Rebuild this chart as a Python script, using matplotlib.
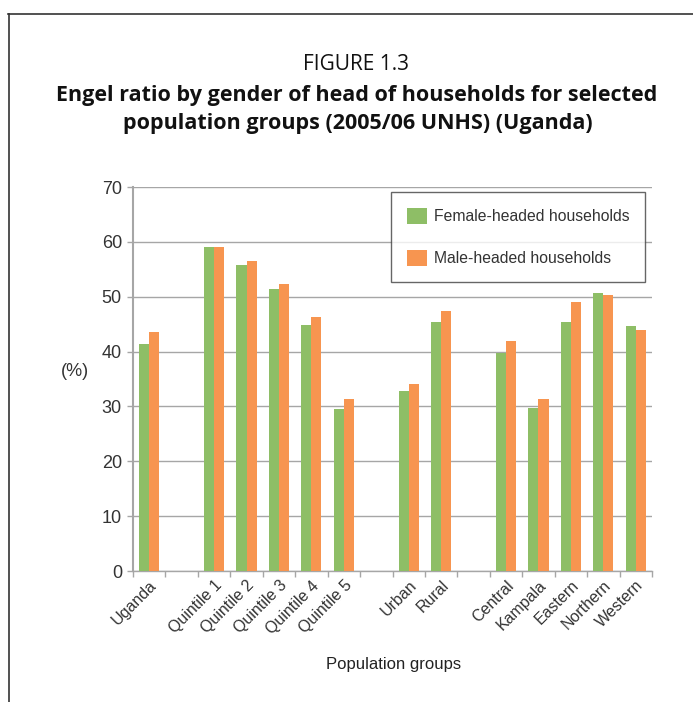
import matplotlib
matplotlib.use("Agg")
import matplotlib.pyplot as plt
from matplotlib import font_manager
from matplotlib.lines import Line2D
import numpy as np

categories = ["Uganda", "", "Quintile 1", "Quintile 2", "Quintile 3", "Quintile 4",
              "Quintile 5", "", "Urban", "Rural", "", "Central", "Kampala",
              "Eastern", "Northern", "Western"]
female = [41.3, None, 59.1, 55.7, 51.4, 44.9, 29.6, None, 32.8, 45.3, None,
          39.7, 29.8, 45.3, 50.7, 44.7]
male = [43.5, None, 59.1, 56.5, 52.4, 46.3, 31.4, None, 34.0, 47.4, None,
        42.0, 31.4, 49.0, 50.3, 44.0]
series_names = ["Female-headed households", "Male-headed households"]
y_ticks = [0, 10, 20, 30, 40, 50, 60, 70]

available = {f.name for f in font_manager.fontManager.ttflist}
narrow = "Liberation Sans Narrow" if "Liberation Sans Narrow" in available else "Liberation Sans"
title_font = "Open Sans" if "Open Sans" in available else "DejaVu Sans"

GREEN = "#8EBE66"
ORANGE = "#F79550"
GRID = "#A6A6A6"
TEXT = "#333333"

fig = plt.figure(figsize=(6.93, 7.02), dpi=100)
W, H = 693, 702
ax = fig.add_axes([133 / W, 1 - 571 / H, (652 - 133) / W, (571 - 187) / H])

x = np.arange(len(categories))
bw = 0.31
fv = np.array([np.nan if v is None else v for v in female])
mv = np.array([np.nan if v is None else v for v in male])
ax.bar(x - bw / 2, fv, width=bw, color=GREEN, label=series_names[0], zorder=3)
ax.bar(x + bw / 2, mv, width=bw, color=ORANGE, label=series_names[1], zorder=3)

ax.set_xlim(-0.5, len(categories) - 0.5)
ax.set_ylim(0, 70)
ax.set_yticks(y_ticks)
ax.yaxis.grid(True, color=GRID, linewidth=1.0, zorder=0)
ax.set_axisbelow(True)

# category ticks sit on slot boundaries; labels sit at slot centres
ax.set_xticks(np.arange(len(categories) + 1) - 0.5)
ax.set_xticklabels([])
ax.set_xticks(x, minor=True)
ax.set_xticklabels(categories, minor=True, rotation=45, ha="right", va="top",
                   rotation_mode="anchor", fontsize=11.5, family=narrow, color=TEXT)
ax.tick_params(axis="x", which="minor", length=0, pad=5)
ax.tick_params(axis="x", which="major", length=4, color=GRID, width=1)
ax.tick_params(axis="y", length=4, color=GRID, width=1, labelsize=13,
               labelcolor=TEXT, pad=4)
for lab in ax.get_yticklabels():
    lab.set_family(narrow)

for side in ("top", "right"):
    ax.spines[side].set_visible(False)
ax.spines["left"].set_color(GRID)
ax.spines["left"].set_linewidth(1.5)
ax.spines["bottom"].set_color(GRID)
ax.spines["bottom"].set_linewidth(1.0)

leg = ax.legend(loc="upper right", bbox_to_anchor=(645 / W, 1 - 192 / H),
                bbox_transform=fig.transFigure, frameon=True, fancybox=False,
                prop={"family": narrow, "size": 11.3}, handlelength=1.25,
                handleheight=1.2, labelspacing=1.65, borderpad=1.0,
                handletextpad=0.45, borderaxespad=0)
leg.get_frame().set_edgecolor("#404040")
leg.get_frame().set_linewidth(1.0)
for t in leg.get_texts():
    t.set_color(TEXT)

fig.text(75 / W, 1 - 372 / H, "(%)", ha="center", va="center", fontsize=13,
         family=narrow, color=TEXT)
fig.text(394 / W, 1 - 664 / H, "Population groups", ha="center", va="center",
         fontsize=12, family=narrow, color="#222222")

fig.text(356 / W, 1 - 64 / H, "FIGURE 1.3", ha="center", va="center",
         fontsize=15, family=title_font, color="#111111")
fig.text(357 / W, 1 - 95 / H, "Engel ratio by gender of head of households for selected",
         ha="center", va="center", fontsize=15.5, family=title_font,
         fontweight="bold", color="#111111")
fig.text(358 / W, 1 - 123 / H, "population groups (2005/06 UNHS) (Uganda)",
         ha="center", va="center", fontsize=15.5, family=title_font,
         fontweight="bold", color="#111111")

# page frame: top rule and left rule
fig.add_artist(Line2D([8 / W, 1.0], [1 - 14 / H, 1 - 14 / H],
                      transform=fig.transFigure, color="#333333", linewidth=1.2))
fig.add_artist(Line2D([9 / W, 9 / W], [0, 1 - 14 / H],
                      transform=fig.transFigure, color="#333333", linewidth=1.2))

fig.savefig("out.png", dpi=100)
